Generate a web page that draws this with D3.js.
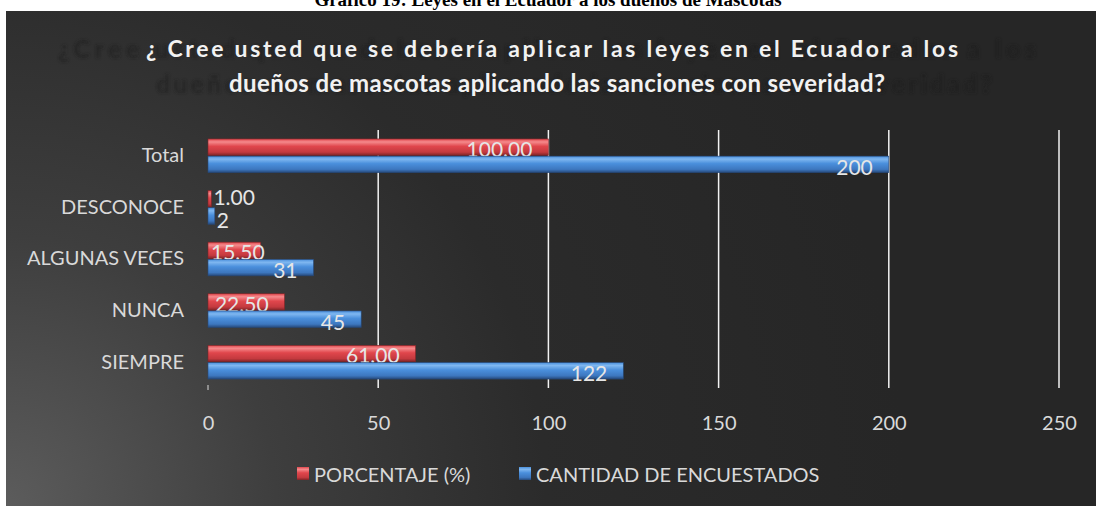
<!DOCTYPE html>
<meta charset="utf-8" />
<style>
    body { margin: 0; background: #fff; }
    text { font-family: Lato, "Open Sans", sans-serif; }
</style>
<title>Leyes en el Ecuador</title>
<body></body>
<script src="https://d3js.org/d3.v7.min.js"></script>
<script>

    // data
    var categories = ["Total", "DESCONOCE", "ALGUNAS VECES", "NUNCA", "SIEMPRE"];
    var seriesNames = ["PORCENTAJE (%)", "CANTIDAD DE ENCUESTADOS"];
    var porcentaje = [100, 1, 15.5, 22.5, 61];
    var cantidad = [200, 2, 31, 45, 122];
    var xTicks = [0, 50, 100, 150, 200, 250];
    var caption = "Gráfico 19: Leyes en el Ecuador a los dueños de Mascotas";
    var titleLines = ["¿ Cree usted que se debería aplicar las leyes en el Ecuador a los",
                      "dueños de mascotas aplicando las sanciones con severidad?"];

    var svgWidth = 1096, svgHeight = 506;
    var margin = {top: 130, right: 37, bottom: 118, left: 208};
    var width = svgWidth - margin.left - margin.right;
    var height = svgHeight - margin.top - margin.bottom;

    var svg = d3.select("body").append("svg")
        .attr("width", svgWidth)
        .attr("height", svgHeight);

    var defs = svg.append("defs");

    var bg = defs.append("radialGradient").attr("id", "bg")
        .attr("gradientUnits", "userSpaceOnUse")
        .attr("cx", 6).attr("cy", 506).attr("r", 900);
    bg.append("stop").attr("offset", 0).attr("stop-color", "#5c5c5c");
    bg.append("stop").attr("offset", 0.3).attr("stop-color", "#3e3e3e");
    bg.append("stop").attr("offset", 0.6).attr("stop-color", "#2b2b2b");
    bg.append("stop").attr("offset", 1).attr("stop-color", "#262626");

    var blur = defs.append("filter").attr("id", "blur");
    blur.append("feGaussianBlur").attr("stdDeviation", 1.5);

    // bevel-like gradients for the bars
    var colors = [
        {id: "gRed", top: "#f58a8c", mid: "#e0464c", low: "#c43a3f", bot: "#7e2426"},
        {id: "gBlue", top: "#7fb7f0", mid: "#4a8fdc", low: "#3d77bf", bot: "#26497a"}
    ];
    colors.forEach(function (c) {
        var g = defs.append("linearGradient").attr("id", c.id)
            .attr("x1", 0).attr("y1", 0).attr("x2", 0).attr("y2", 1);
        g.append("stop").attr("offset", 0).attr("stop-color", c.mid);
        g.append("stop").attr("offset", 0.18).attr("stop-color", c.top);
        g.append("stop").attr("offset", 0.45).attr("stop-color", c.mid);
        g.append("stop").attr("offset", 0.8).attr("stop-color", c.low);
        g.append("stop").attr("offset", 1).attr("stop-color", c.bot);
    });

    // caption above the panel (mostly cut off)
    svg.append("text")
        .attr("x", 548).attr("y", 6)
        .attr("text-anchor", "middle")
        .style("font-family", "'Liberation Serif', serif")
        .style("font-weight", "bold")
        .style("font-size", "19px")
        .attr("fill", "#000")
        .text(caption);

    // dark panel
    svg.append("rect")
        .attr("x", 6).attr("y", 11)
        .attr("width", svgWidth - 6).attr("height", svgHeight - 11)
        .attr("fill", "url(#bg)");

    // ghost title behind
    var ghost = [{y: 58, x0: 58, x1: 1036}, {y: 93, x0: 156, x1: 992}];
    ghost.forEach(function (g, i) {
        svg.append("text")
            .attr("x", g.x0).attr("y", g.y)
            .attr("textLength", g.x1 - g.x0)
            .attr("lengthAdjust", "spacing")
            .style("font-size", "25px").style("font-weight", "bold")
            .attr("fill", "#1a1a1a").attr("opacity", 0.55)
            .attr("filter", "url(#blur)")
            .text(titleLines[i].replace("¿ ", "¿"));
    });

    var titleSpan = [{y: 57, x0: 146, x1: 958, size: 23}, {y: 92, x0: 229, x1: 885, size: 24}];
    titleSpan.forEach(function (t, i) {
        svg.append("text")
            .attr("x", t.x0).attr("y", t.y)
            .attr("textLength", t.x1 - t.x0)
            .attr("lengthAdjust", "spacing")
            .style("font-size", t.size + "px").style("font-weight", "bold")
            .attr("fill", "#f2f2f2")
            .text(titleLines[i]);
    });

    var inner = svg.append("g")
        .attr("transform", "translate(" + margin.left + "," + margin.top + ")");

    var x = d3.scaleLinear().domain([0, 250]).range([0, width]);
    var y0 = d3.scaleBand().domain(categories).range([0, height])
        .paddingInner(0.32).paddingOuter(0.16);
    var y1 = d3.scaleBand().domain([0, 1]).range([0, y0.bandwidth()]).padding(0.04);

    // gridlines
    inner.selectAll(".grid").data(xTicks.filter(function (d) { return d > 0; }))
        .enter().append("line")
        .attr("x1", function (d) { return x(d); }).attr("x2", function (d) { return x(d); })
        .attr("y1", 0).attr("y2", height)
        .attr("stroke", "#f2f2f2").attr("stroke-width", 1.5);
    inner.append("line")
        .attr("x1", 0).attr("x2", 0).attr("y1", height - 3).attr("y2", height + 2)
        .attr("stroke", "#d9d9d9");

    // x axis
    var xAxis = d3.axisBottom(x).tickValues(xTicks).tickSize(0).tickPadding(0);
    var gx = inner.append("g")
        .attr("transform", "translate(0," + (height + 28) + ")")
        .call(xAxis);
    gx.select(".domain").remove();
    gx.selectAll("text")
        .style("font-family", "Lato, sans-serif")
        .style("font-size", "20px").attr("fill", "#d9d9d9");

    // y axis labels
    var yAxis = d3.axisLeft(y0).tickSize(0).tickPadding(24);
    var gy = inner.append("g").call(yAxis);
    gy.select(".domain").remove();
    gy.selectAll("text")
        .style("font-family", "Lato, sans-serif")
        .style("font-size", "20px").attr("fill", "#d9d9d9");

    var values = [porcentaje, cantidad];
    var labelPad = [16, 16];
    var labelDy = [1, 2];
    var fmt = [d3.format(".2f"), d3.format("d")];

    values.forEach(function (vals, s) {
        var g = inner.append("g");
        var bars = g.selectAll("g").data(vals).enter().append("g")
            .attr("transform", function (d, i) {
                return "translate(0," + (y0(categories[i]) + y1(s)) + ")";
            });
        bars.append("rect")
            .attr("x", 0).attr("y", 0)
            .attr("width", function (d) { return x(d); })
            .attr("height", y1.bandwidth())
            .attr("fill", "url(#" + colors[s].id + ")")
            .attr("stroke", colors[s].bot).attr("stroke-width", 0.6);
        bars.append("text")
            .attr("y", function (d) {
                // small bars put their labels outside, spread a little more
                var shift = x(d) < 10 ? (s === 0 ? -3 : 1) : 0;
                return y1.bandwidth() / 2 + labelDy[s] + shift;
            })
            .attr("dominant-baseline", "central")
            .style("font-size", "21px")
            .attr("fill", "#e6e6e6")
            .text(function (d) { return fmt[s](d); })
            .attr("x", function (d) {
                var w = this.getComputedTextLength();
                var bx = x(d);
                if (bx < 10) return bx + 2;
                return Math.max(3, bx - labelPad[s] - w);
            });
    });

    // legend
    var legend = svg.append("g").attr("transform", "translate(0,474)");
    var legendX = [297, 519];
    seriesNames.forEach(function (name, s) {
        var item = legend.append("g").attr("transform", "translate(" + legendX[s] + ",0)");
        item.append("rect")
            .attr("x", 0).attr("y", -7).attr("width", 12).attr("height", 13)
            .attr("fill", "url(#" + colors[s].id + ")");
        item.append("text")
            .attr("x", 17).attr("y", 0)
            .attr("dominant-baseline", "central")
            .style("font-size", "20px").attr("fill", "#d9d9d9")
            .text(name);
    });

</script>
